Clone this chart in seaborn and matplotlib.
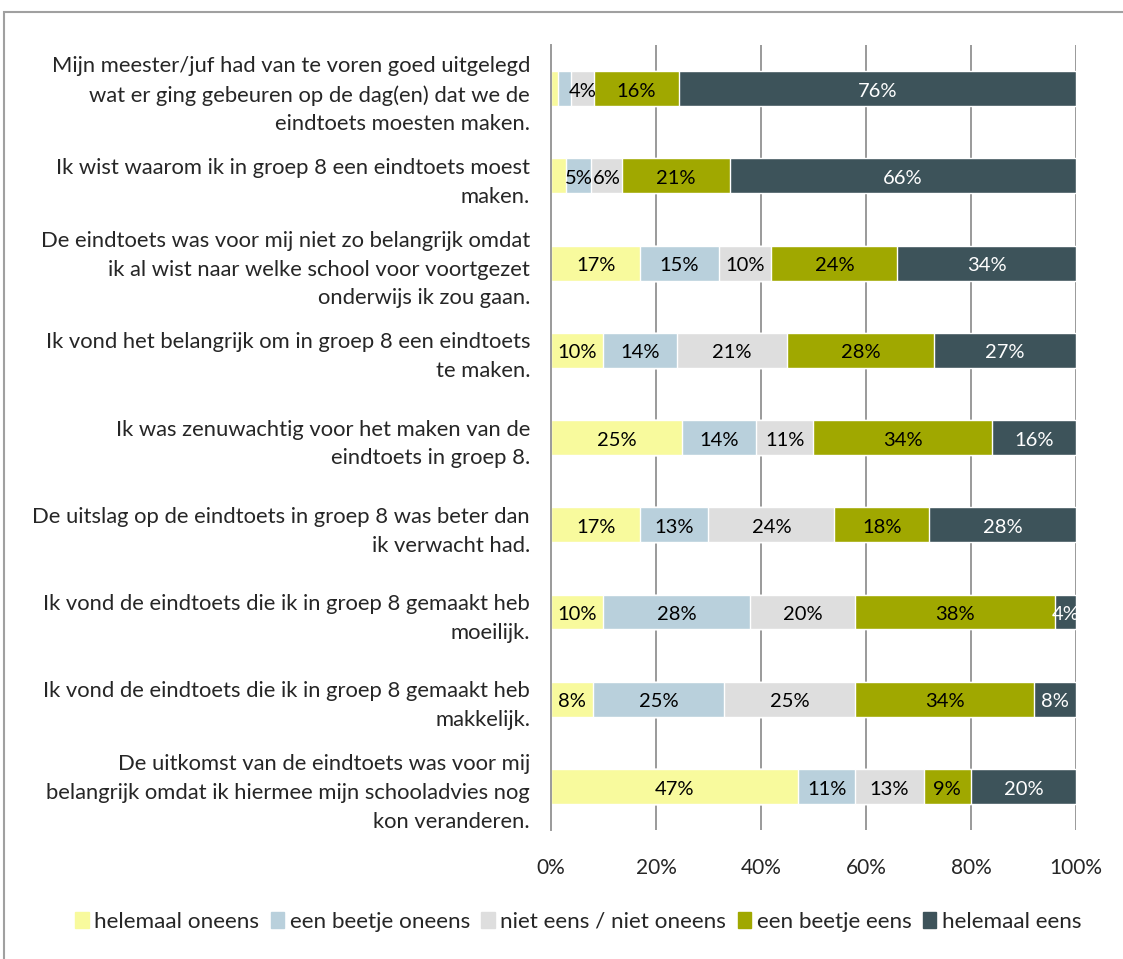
import matplotlib.pyplot as plt
import matplotlib.patches as mpatches
import numpy as np
import pandas as pd
import seaborn as sns

# Survey statements (top to bottom)
statements = [
    "Mijn meester/juf had van te voren goed uitgelegd\nwat er ging gebeuren op de dag(en) dat we de\neindtoets moesten maken.",
    "Ik wist waarom ik in groep 8 een eindtoets moest\nmaken.",
    "De eindtoets was voor mij niet zo belangrijk omdat\nik al wist naar welke school voor voortgezet\nonderwijs ik zou gaan.",
    "Ik vond het belangrijk om in groep 8 een eindtoets\nte maken.",
    "Ik was zenuwachtig voor het maken van de\neindtoets in groep 8.",
    "De uitslag op de eindtoets in groep 8 was beter dan\nik verwacht had.",
    "Ik vond de eindtoets die ik in groep 8 gemaakt heb\nmoeilijk.",
    "Ik vond de eindtoets die ik in groep 8 gemaakt heb\nmakkelijk.",
    "De uitkomst van de eindtoets was voor mij\nbelangrijk omdat ik hiermee mijn schooladvies nog\nkon veranderen.",
]

categories = [
    "helemaal oneens",
    "een beetje oneens",
    "niet eens / niet oneens",
    "een beetje eens",
    "helemaal eens",
]

# Percentages per statement, per answer category
helemaal_oneens = [1.3, 2.8, 17, 10, 25, 17, 10, 8, 47]
beetje_oneens = [2.5, 4.9, 15, 14, 14, 13, 28, 25, 11]
neutraal = [4.4, 5.8, 10, 21, 11, 24, 20, 25, 13]
beetje_eens = [16.2, 20.6, 24, 28, 34, 18, 38, 34, 9]
helemaal_eens = [75.6, 65.9, 34, 27, 16, 28, 4, 8, 20]

labels_shown = [
    [None, None, "4%", "16%", "76%"],
    [None, "5%", "6%", "21%", "66%"],
    ["17%", "15%", "10%", "24%", "34%"],
    ["10%", "14%", "21%", "28%", "27%"],
    ["25%", "14%", "11%", "34%", "16%"],
    ["17%", "13%", "24%", "18%", "28%"],
    ["10%", "28%", "20%", "38%", "4%"],
    ["8%", "25%", "25%", "34%", "8%"],
    ["47%", "11%", "13%", "9%", "20%"],
]

colors = ["#F8FA9D", "#B9D0DC", "#DEDEDE", "#A0A800", "#3D535A"]
text_colors = ["black", "black", "black", "black", "white"]


def main():
    sns.set_style("white")
    plt.rcParams["font.family"] = ["Lato", "DejaVu Sans"]

    df = pd.DataFrame(
        {
            "statement": statements,
            categories[0]: helemaal_oneens,
            categories[1]: beetje_oneens,
            categories[2]: neutraal,
            categories[3]: beetje_eens,
            categories[4]: helemaal_eens,
        }
    )
    cum = df[categories].cumsum(axis=1)

    fig = plt.figure(figsize=(11.23, 9.59), dpi=100)
    ax = fig.add_axes([0.4906, 0.1345, 0.4675, 0.8185])

    # gridlines behind bars
    for x in [20, 40, 60, 80, 100]:
        ax.axvline(x, color="#9A9A9A", lw=1.4, zorder=0)

    # stacked bars: draw cumulative totals from largest to smallest
    for i in reversed(range(len(categories))):
        sns.barplot(
            x=cum[categories[i]],
            y=df["statement"],
            orient="h",
            color=colors[i],
            width=0.4,
            saturation=1,
            ax=ax,
            zorder=2,
        )

    # segment labels
    for row in range(len(statements)):
        for i, cat in enumerate(categories):
            lab = labels_shown[row][i]
            if lab is None:
                continue
            mid = cum.loc[row, cat] - df.loc[row, cat] / 2
            ax.text(mid, row + 0.03, lab, ha="center", va="center",
                    fontsize=14.5, color=text_colors[i], zorder=3)

    ax.set_xlim(0, 100)
    ax.set_ylim(8.5, -0.5)
    ax.set_xticks([0, 20, 40, 60, 80, 100])
    ax.set_xticklabels(["0%", "20%", "40%", "60%", "80%", "100%"], fontsize=15)
    ax.tick_params(axis="x", length=0, pad=20)
    ax.set_yticks(range(len(statements)))
    ax.set_yticklabels(statements, fontsize=15.8, linespacing=1.55, ha="right")
    ax.tick_params(axis="y", length=0, pad=15)
    ax.set_yticks(np.arange(-0.5, 9.0, 1.0), minor=True)
    ax.tick_params(axis="y", which="minor", length=6, color="#9A9A9A", width=1.4)
    ax.set_xlabel("")
    ax.set_ylabel("")

    for side in ["top", "right", "bottom"]:
        ax.spines[side].set_visible(False)
    ax.spines["left"].set_color("#9A9A9A")
    ax.spines["left"].set_linewidth(1.4)

    handles = [mpatches.Patch(color=c, label=l) for c, l in zip(colors, categories)]
    fig.legend(
        handles=handles,
        loc="center",
        bbox_to_anchor=(0.515, 0.039),
        ncol=5,
        frameon=False,
        fontsize=16.2,
        handlelength=0.6,
        handleheight=0.7,
        handletextpad=0.25,
        columnspacing=0.5,
    )

    # outer chart border
    fig.patches.append(
        mpatches.Rectangle(
            (4 / 1123, -0.05), 1.1, 1 - 12 / 959 + 0.05,
            transform=fig.transFigure, fill=False, edgecolor="#A0A0A0", lw=1.5,
        )
    )

    fig.savefig("out.png", dpi=100)
    plt.close(fig)


if __name__ == "__main__":
    main()
